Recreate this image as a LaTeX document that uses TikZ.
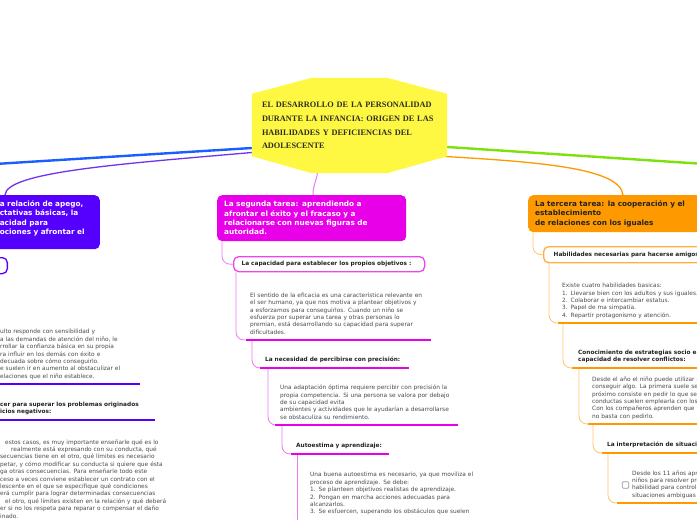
\documentclass[tikz,border=0pt]{standalone}
\usepackage{fontspec}
\setmainfont{DejaVu Sans}
\newfontfamily\rootfamily{Liberation Serif}
\usetikzlibrary{backgrounds}

\definecolor{purC}{RGB}{85,0,255}
\definecolor{purL}{RGB}{110,50,240}
\definecolor{bluC}{RGB}{25,95,255}
\definecolor{greC}{RGB}{125,225,10}
\definecolor{magC}{RGB}{232,0,232}
\definecolor{magB}{RGB}{236,70,236}
\definecolor{magL}{RGB}{238,120,238}
\definecolor{oraC}{RGB}{255,153,0}
\definecolor{oraB}{RGB}{255,175,60}
\definecolor{oraL}{RGB}{255,195,110}
\definecolor{yelC}{RGB}{255,248,66}
\definecolor{rootC}{RGB}{45,45,35}
\definecolor{paraC}{RGB}{75,75,75}
\definecolor{headC}{RGB}{35,35,35}
\definecolor{chkC}{RGB}{150,150,150}

\newcommand{\rootfnt}{\rootfamily\bfseries\fontsize{8.3}{13.67}\selectfont}
\newcommand{\boxfnt}{\bfseries\fontsize{7.3}{9.3}\selectfont}
\newcommand{\parafnt}{\fontsize{5.85}{7.4}\selectfont}
\newcommand{\headfnt}{\bfseries\fontsize{5.8}{7.6}\selectfont}

\begin{document}
\begin{tikzpicture}
  [
  x=1pt, y=-1pt,
  rootbox/.style={minimum width=195pt, minimum height=95pt, text width=175pt, inner sep=0pt, align=left, text=rootC, font=\rootfnt},
  titlebox/.style={rounded corners=5pt, anchor=north west, align=left, font=\boxfnt, inner xsep=7pt, inner ysep=0pt},
  subbox/.style={draw, rounded corners=5pt, line width=1.3pt, fill=white, anchor=north west, align=left, font=\headfnt, text=headC, inner ysep=0pt},
  para/.style={anchor=south west, align=left, font=\parafnt, text=paraC, text width=230pt, inner ysep=3.3pt, execute at end node=\strut},
  topic/.style={anchor=south west, align=left, font=\headfnt, text=headC, text width=230pt, inner ysep=3.8pt, execute at end node=\strut},
  uline/.style 2 args={append after command={(\tikzlastnode.south west) edge[draw=#1, line width=2.8pt] ([xshift=#2pt]\tikzlastnode.south west)}},
  conmag/.style={draw=magL, line width=0.8pt, rounded corners=8pt},
  conora/.style={draw=oraL, line width=0.8pt, rounded corners=8pt}
  ]
  \useasboundingbox (0,0) rectangle (697,520);

  % centre
  \node[rootbox] (root) at (349.5,125.5) {EL DESARROLLO DE LA PERSONALIDAD\\DURANTE LA INFANCIA: ORIGEN DE LAS\\HABILIDADES Y DEFICIENCIAS DEL\\ADOLESCENTE};
  \coordinate (offL) at (-5,164);
  \coordinate (offR) at (705,164);

  % first task (left, cut off)
  \node[titlebox, fill=purC, text=white, anchor=north east, minimum width=107pt, minimum height=54pt, text width=93pt] (p0) at (100,195) {a relación de apego,\\ctativas básicas, la\\acidad para\\ociones y afrontar el\\\mbox{}};
  \node[subbox, draw=purC, anchor=north east, minimum width=60pt, minimum height=16pt] (p1) at (8,257) {};
  \node[para, uline={purC}{140}, inner xsep=0pt] (p2) at (0,384) {ulto responde con sensibilidad y\\a las demandas de atención del niño, le\\rrollar la confianza básica en su propia\\ra influir en los demás con éxito e\\decuada sobre cómo conseguirlo.\\e suelen ir en aumento al obstaculizar el\\elaciones que el niño establece.};
  \node[topic, uline={purC}{155}, inner xsep=0pt] (p3) at (0,420) {cer para superar los problemas originados\\icios negativos:};
  \node[para, anchor=north west, inner xsep=0pt] (p4) at (0,435.9) {\hspace*{5pt}estos casos, es muy importante enseñarle qué es lo\\\hspace*{11pt}realmente está expresando con su conducta, qué\\secuencias tiene en el otro, qué límites es necesario\\petar, y cómo modificar su conducta si quiere que ésta\\ga otras consecuencias. Para enseñarle todo este\\ceso a veces conviene establecer un contrato con el\\lescente en el que se especifique qué condiciones\\erá cumplir para lograr determinadas consecuencias\\\hspace*{5pt}el otro, qué límites existen en la relación y qué deberá\\er si no los respeta para reparar o compensar el daño\\inado.};

  % second task (middle)
  \node[titlebox, fill=magC, text=white, minimum width=189pt, minimum height=46pt, text width=175pt] (m0) at (217,195) {La segunda tarea: aprendiendo a\\afrontar el éxito y el fracaso y a\\relacionarse con nuevas figuras de\\autoridad.};
  \node[subbox, draw=magB, minimum width=191pt, minimum height=15pt, text width=175pt, inner xsep=8pt] (m1) at (233,256) {La capacidad para establecer los propios objetivos :};
  \node[para, uline={magC}{185}, inner xsep=4pt] (m2) at (246,340) {El sentido de la eficacia es una característica relevante en\\el ser humano, ya que nos motiva a plantear objetivos y\\a esforzamos para conseguirlos. Cuando un niño se\\esfuerza por superar una tarea y otras personas lo\\premian, está desarrollando su capacidad para superar\\dificultades.};
  \node[topic, uline={magC}{149}, inner xsep=5pt] (m3) at (260,368) {La necesidad de percibirse con precisión:};
  \node[para, uline={magC}{183}, inner xsep=5pt] (m4) at (275,425) {Una adaptación óptima requiere percibir con precisión la\\propia competencia. Si una persona se valora por debajo\\de su capacidad evita\\ambientes y actividades que le ayudarían a desarrollarse\\se obstaculiza su rendimiento.};
  \node[topic, uline={magC}{98}, inner xsep=5pt] (m5) at (291,454) {Autoestima y aprendizaje:};
  \node[para, anchor=north west, inner xsep=4pt] (m6) at (306,468.9) {Una buena autoestima es necesario, ya que moviliza el\\proceso de aprendizaje. Se debe:\\1. Se planteen objetivos realistas de aprendizaje.\\2. Pongan en marcha acciones adecuadas para\\alcanzarlos.\\3. Se esfuercen, superando los obstáculos que suelen};
  \coordinate (m6end) at (297,530);

  % third task (right, cut off)
  \node[titlebox, fill=oraC, text=headC, minimum width=200pt, minimum height=37pt, text width=186pt] (o0) at (528,195) {La tercera tarea: la cooperación y el\\establecimiento\\de relaciones con los iguales};
  \node[subbox, draw=oraB, minimum width=200pt, minimum height=16pt, text width=180pt, inner xsep=10pt] (o1) at (543,246) {Habilidades necesarias para hacerse amigos};
  \node[para, uline={oraC}{160}, inner xsep=4pt] (o2) at (558,323) {Existe cuatro habilidades basicas:\\1. Llevarse bien con los adultos y sus iguales.\\2. Colaborar e intercambiar estatus.\\3. Papel de ma simpatía.\\4. Repartir protagonismo y atención.};
  \node[topic, uline={oraC}{150}, inner xsep=6pt] (o3) at (572,368) {Conocimiento de estrategias socio emocionales y\\capacidad de resolver conflictos:};
  \node[para, uline={oraC}{130}, inner xsep=4pt] (o4) at (588,424) {Desde el año el niño puede utilizar el\\conseguir algo. La primera suele ser\\próximo consiste en pedir lo que se\\conductas suelen emplearla con los\\Con los compañeros aprenden que\\no basta con pedirlo.};
  \node[topic, uline={oraC}{120}, inner xsep=5pt] (o5) at (602,453) {La interpretación de situaciones};
  \node[para, uline={oraC}{110}, inner xsep=15pt] (o6) at (617,503) {Desde los 11 años aprenden\\niños para resolver problemas\\habilidad para controlar\\situaciones ambiguas};
  \node[draw=chkC, rounded corners=1pt, line width=0.7pt, minimum size=6.5pt, inner sep=0pt] (chk) at (625.5,485) {};

  \begin{scope}[on background layer]
    % main branches
    \draw[bluC, line width=2.4pt] ([yshift=-22.5pt]root.west) -- (offL);
    \draw[greC, line width=2.4pt] ([yshift=-21.5pt]root.east) -- (offR);
    \draw[purL, line width=1.3pt] ([yshift=-27pt]root.west) .. controls (120,164) and (6,172) .. ([xshift=-95pt]p0.north east);
    \draw[magL, line width=1pt] ([xshift=-32pt]root.south) .. controls (316,182) and (313,185) .. ([xshift=96pt]m0.north west);
    \draw[oraC, line width=1.3pt] ([xshift=-7pt,yshift=17pt]root.south east) .. controls (540,162) and (620,168) .. ([xshift=95pt]o0.north west);
    % sub branches
    \draw[conmag] ([xshift=5pt]m0.south west) |- (m1.west);
    \draw[conmag] ([xshift=3pt]m1.south west) |- (m2.south west);
    \draw[conmag] ([xshift=6pt]m2.south west) |- (m3.south west);
    \draw[conmag] ([xshift=8pt]m3.south west) |- (m4.south west);
    \draw[conmag] ([xshift=7pt]m4.south west) |- (m5.south west);
    \draw[conmag] ([xshift=6pt]m5.south west) -- (m6end);
    \draw[conora] ([xshift=5pt]o0.south west) |- (o1.west);
    \draw[conora] ([xshift=6pt]o1.south west) |- (o2.south west);
    \draw[conora] ([xshift=5pt]o2.south west) |- (o3.south west);
    \draw[conora] ([xshift=7pt]o3.south west) |- (o4.south west);
    \draw[conora] ([xshift=5pt]o4.south west) |- (o5.south west);
    \draw[conora] ([xshift=6pt]o5.south west) |- (o6.south west);
    % centre shape
    \fill[yelC] ([yshift=-16pt]root.north west) -- ([xshift=60pt]root.north west) -- ([xshift=-60pt]root.north east) -- ([yshift=-16pt]root.north east) -- ([yshift=17pt]root.south east) -- ([xshift=-60pt]root.south east) -- ([xshift=60pt]root.south west) -- ([yshift=17pt]root.south west) -- cycle;
  \end{scope}
\end{tikzpicture}
\end{document}
